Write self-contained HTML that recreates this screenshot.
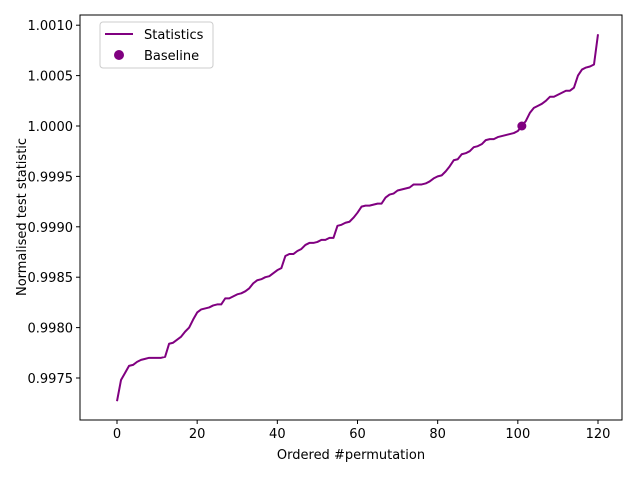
<!DOCTYPE html>
<html><head><meta charset="utf-8"><style>
body{margin:0;background:#fff;}
svg text{font-family:"DejaVu Sans","Liberation Sans",sans-serif;font-size:13px;fill:#000;}
</style></head><body>
<svg width="640" height="472" xmlns="http://www.w3.org/2000/svg">
<rect width="640" height="472" fill="#fff"/>
<g id="plot"></g>
<rect x="80" y="15" width="542" height="405" fill="none" stroke="#000" stroke-width="1"/>
<g>
<rect x="100" y="22" width="113" height="46" fill="#fff" stroke="#ccc" rx="3"/>
<line x1="105" y1="34" x2="133" y2="34" stroke="#800080" stroke-width="2"/>
<text x="144" y="39">Statistics</text>
<circle cx="119" cy="55" r="5" fill="#800080"/>
<text x="144" y="60">Baseline</text>
</g>
<text x="351" y="459" text-anchor="middle">Ordered #permutation</text>
<text transform="translate(26,217) rotate(-90)" text-anchor="middle">Normalised test statistic</text>
</svg>
<script>
const values=[-27.3,-25.2,-24.5,-23.8,-23.7,-23.4,-23.2,-23.1,-23.0,-23.0,-23.0,-23.0,-22.9,-21.6,-21.5,-21.2,-20.9,-20.4,-20.0,-19.2,-18.5,-18.2,-18.1,-18.0,-17.8,-17.7,-17.7,-17.1,-17.1,-16.9,-16.7,-16.6,-16.4,-16.1,-15.6,-15.3,-15.2,-15.0,-14.9,-14.6,-14.3,-14.1,-12.9,-12.7,-12.7,-12.4,-12.2,-11.8,-11.6,-11.6,-11.5,-11.3,-11.3,-11.1,-11.1,-9.9,-9.8,-9.6,-9.5,-9.1,-8.6,-8.0,-7.9,-7.9,-7.8,-7.7,-7.7,-7.1,-6.8,-6.7,-6.4,-6.3,-6.2,-6.1,-5.8,-5.8,-5.8,-5.7,-5.5,-5.2,-5.0,-4.9,-4.5,-4.0,-3.4,-3.3,-2.8,-2.7,-2.5,-2.1,-2.0,-1.8,-1.4,-1.3,-1.3,-1.1,-1.0,-0.9,-0.8,-0.7,-0.5,0.0,0.5,1.3,1.8,2.0,2.2,2.5,2.9,2.9,3.1,3.3,3.5,3.5,3.8,5.0,5.6,5.8,5.9,6.1,9.1];
const baselineX=[101];
const baselineY=[0.0];
const xTicks=[0,20,40,60,80,100,120];
const yTicks=[-25,-20,-15,-10,-5,0,5,10];
const NS="http://www.w3.org/2000/svg";
const xs=v=>117+v*(598-117)/120;
const ys=v=>126-v*10.08; // v in 1e-4 units relative to 1
const g=document.getElementById('plot');
function mk(t,a){const e=document.createElementNS(NS,t);for(const k in a)e.setAttribute(k,a[k]);g.appendChild(e);return e;}
xTicks.forEach(t=>{
 const l=mk('line',{x1:xs(t),x2:xs(t),y1:420,y2:424,stroke:'#000'});
 
 
 const tx=mk('text',{x:xs(t),y:438,'text-anchor':'middle'});tx.textContent=t;
 
 
});
yTicks.forEach(t=>{
 const l=mk('line',{x1:76,x2:80,y1:ys(t),y2:ys(t),stroke:'#000'});
 
 
 const tx=mk('text',{x:73,y:ys(t)+5,'text-anchor':'end'});tx.textContent=(1+t/10000).toFixed(4);
 
 
});
const p=mk('polyline',{points:values.map((v,i)=>xs(i)+','+ys(v)).join(' '),fill:'none',stroke:'#800080','stroke-width':2,'stroke-linejoin':'round'});


baselineX.forEach((x,i)=>{
 const c=mk('circle',{cx:xs(x),cy:ys(baselineY[i]),r:4.5,fill:'#800080'});
 
 
});
</script>
</body></html>
